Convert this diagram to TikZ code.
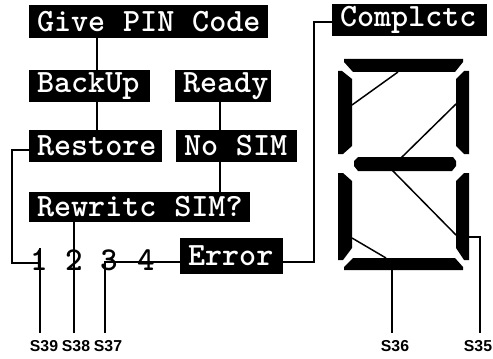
\documentclass[tikz,border=0pt]{standalone}
\usepackage{fontspec}
\setsansfont{Liberation Sans}
\usetikzlibrary{positioning}
\newcommand{\wordgap}{\hspace{4pt} }
\tikzset{
  lcd/.style={fill=black, text=white, inner ysep=0pt, inner xsep=0.16cm, align=left, font=\fontsize{18.5}{19}\ttfamily\bfseries},
  digit/.style={inner sep=0pt, font=\fontsize{19}{19}\ttfamily\bfseries},
  pin/.style={inner sep=0pt, font=\fontsize{9}{9}\sffamily\bfseries},
  wire/.style={draw, line width=1.05pt},
  slant/.style={draw, line width=0.85pt},
  seg/.style={fill=black, draw=none}
}

\begin{document}
\begin{tikzpicture}[x=0.02cm, y=-0.02cm]
  \useasboundingbox (0,0) rectangle (493,358);
  % Messages
  \node[lcd, text width=4.46cm, minimum height=0.66cm] (give) at (148.5,21.5) {\mbox{Give\wordgap PIN\wordgap Code}};
  \node[lcd, text width=2.10cm, minimum height=0.64cm] (backup) at (89.5,86) {BackUp};
  \node[lcd, text width=1.60cm, minimum height=0.64cm] (ready) at (223,86) {Ready};
  \node[lcd, text width=2.34cm, minimum height=0.64cm] (restore) at (95.5,146) {Restore};
  \node[lcd, text width=2.10cm, minimum height=0.64cm] (nosim) at (236.5,146) {\mbox{No\wordgap SIM}};
  \node[lcd, text width=4.10cm, minimum height=0.60cm] (rewrite) at (139.5,207) {\mbox{Rewritc\wordgap SIM?}};
  \node[lcd, text width=1.74cm, minimum height=0.72cm] (error) at (231.5,256) {Error};
  \node[lcd, text width=2.78cm, minimum height=0.64cm] (complete) at (409.5,20) {Complctc};
  % Digits
  \node[digit] (d1) at (39,260) {1};
  \node[digit] (d2) at (74,260) {2};
  \node[digit] (d3) at (109,260) {3};
  \node[digit] (d4) at (146,260) {4};
  % Pin labels
  \node[pin] (s39) at (44,346) {S39};
  \node[pin] (s38) at (76,346) {S38};
  \node[pin] (s37) at (108,346) {S37};
  \node[pin] (s36) at (395,346) {S36};
  \node[pin] (s35) at (478,346) {S35};
  % Seven segments
  \coordinate (botseg) at (392,270);
  \coordinate (rseg) at (468,237);
  \fill[seg] (344,59) -- (463,59) -- (463,62) -- (455,72) -- (353,72) -- (344,62) -- cycle;
  \fill[seg] (344,270) -- (463,270) -- (463,267) -- (455,258) -- (353,258) -- (344,267) -- cycle;
  \fill[seg] (358,157) -- (453,157) -- (456,161) -- (456,166) -- (452,171) -- (358,171) -- (354,166) -- (354,161) -- cycle;
  \fill[seg] (338,71) -- (342,71) -- (352,79) -- (352,146) -- (343,154) -- (338,154) -- cycle;
  \fill[seg] (338,173) -- (343,173) -- (352,181) -- (352,248) -- (343,260) -- (338,260) -- cycle;
  \fill[seg] (469,71) -- (464,71) -- (456,79) -- (456,146) -- (464,154) -- (469,154) -- cycle;
  \fill[seg] (469,173) -- (464,173) -- (456,181) -- (456,248) -- (464,260) -- (469,260) -- cycle;
  % Connectors
  \draw[wire] (give.south -| 97,0) -- (backup.north -| 97,0);
  \draw[wire] (backup.south -| 97,0) -- (restore.north -| 97,0);
  \draw[wire] (ready.south -| 220,0) -- (nosim.north -| 220,0);
  \draw[wire] (nosim.south -| 220,0) -- (rewrite.north -| 220,0);
  \draw[wire] (restore.west |- 0,150) -| (12,263) -- (40,263);
  \draw[wire] (40,248) -- (40,333);
  \draw[wire] (rewrite.south -| 74,0) -- (74,333);
  \draw[wire] (error.west |- 0,262) -- (105,262) -- (105,333);
  \draw[wire] (error.east |- 0,262) -| (314,22) -- (complete.west |- 0,22);
  \draw[wire] (botseg) -- (392,333);
  \draw[wire] (rseg) -| (480,333);
  % Slanted strokes
  \draw[slant] (352,105) -- (398,72);
  \draw[slant] (401,158) -- (456,104);
  \draw[slant] (392,170) -- (456,235);
  \draw[slant] (352,238) -- (386,258);
\end{tikzpicture}
\end{document}
